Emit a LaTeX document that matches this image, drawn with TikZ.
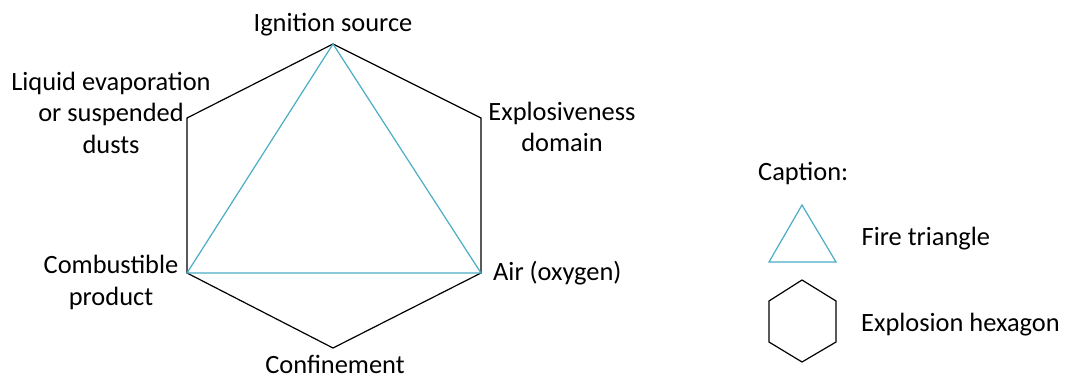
\documentclass[tikz,border=0pt]{standalone}
\usepackage{fontspec}
\setmainfont{Carlito}
\definecolor{tri}{RGB}{75,172,198}
\begin{document}
\begin{tikzpicture}[x=1pt,y=-1pt,
  lbl/.style={inner sep=0pt,anchor=base,font=\fontsize{26.4}{31.5}\selectfont},
  hexline/.style={draw=black,line width=1.2pt,line join=miter},
  triline/.style={draw=tri,line width=1.2pt,line join=miter}]
\useasboundingbox (0,0) rectangle (1068,378);
% main hexagon vertices
\coordinate (T) at (333,44);
\coordinate (UR) at (481,118);
\coordinate (LR) at (481,273);
\coordinate (B) at (333,348);
\coordinate (LL) at (187,273);
\coordinate (UL) at (187,118);
\draw[hexline] (T) -- (UR) -- (LR) -- (B) -- (LL) -- (UL) -- cycle;
\draw[triline] (T) -- (LR) -- (LL) -- cycle;
% labels (base anchor = baseline of last line)
\node[lbl] (ign) at (333,31.5) {Ignition source};
\node[lbl,align=center] (expl) at (562,151.5) {Explosiveness\\domain};
\node[lbl,align=center] (liq) at (111,153) {Liquid evaporation\\or suspended\\dusts};
\node[lbl,align=center] (comb) at (111,305) {Combustible\\product};
\node[lbl,anchor=base west] (air) at (493,280) {Air (oxygen)};
\node[lbl] (conf) at (335,373) {Confinement};
% legend
\node[lbl,anchor=base west] (cap) at (758,180) {Caption:};
\coordinate (lt1) at (802,205);
\coordinate (lt2) at (836,262);
\coordinate (lt3) at (769,262);
\draw[triline] (lt1) -- (lt2) -- (lt3) -- cycle;
\node[lbl,anchor=base west] (firet) at (861.5,245) {Fire triangle};
\coordinate (lh1) at (802,280);
\coordinate (lh2) at (836,301);
\coordinate (lh3) at (836,342);
\coordinate (lh4) at (802,362);
\coordinate (lh5) at (769,342);
\coordinate (lh6) at (769,301);
\draw[hexline] (lh1) -- (lh2) -- (lh3) -- (lh4) -- (lh5) -- (lh6) -- cycle;
\node[lbl,anchor=base west] (exph) at (861,331.5) {Explosion hexagon};
\end{tikzpicture}
\end{document}
